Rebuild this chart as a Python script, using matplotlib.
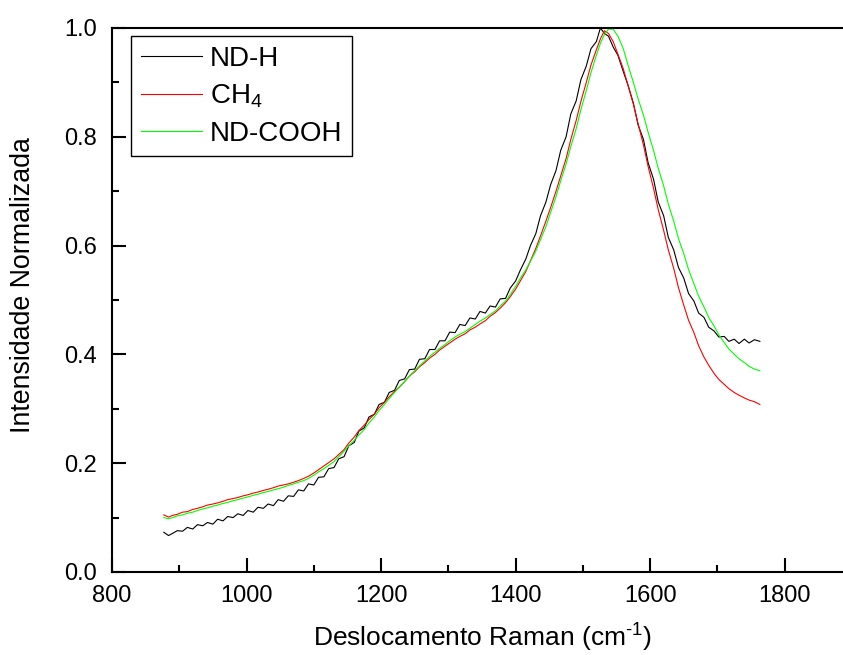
import matplotlib
matplotlib.use("Agg")
import matplotlib.pyplot as plt
from matplotlib.ticker import MultipleLocator, FormatStrFormatter

plt.rcParams['font.family'] = ['Liberation Sans', 'DejaVu Sans']
plt.rcParams['mathtext.fontset'] = 'custom'
plt.rcParams['mathtext.rm'] = 'Liberation Sans'

raman_shift = [877, 884, 890, 897, 905, 912, 920, 927, 935, 942, 950, 957, 965, 972,
               980, 987, 995, 1002, 1010, 1017, 1025, 1032, 1040, 1047, 1055, 1062,
               1070, 1077, 1085, 1092, 1100, 1107, 1115, 1122, 1130, 1137, 1145, 1152,
               1160, 1167, 1175, 1182, 1190, 1197, 1205, 1212, 1220, 1227, 1235, 1242,
               1250, 1257, 1265, 1272, 1280, 1287, 1295, 1302, 1310, 1317, 1325, 1332,
               1340, 1347, 1355, 1362, 1370, 1377, 1385, 1392, 1400, 1407, 1415, 1422,
               1430, 1437, 1445, 1452, 1460, 1467, 1475, 1482, 1490, 1497, 1505, 1512,
               1520, 1526, 1532, 1538, 1545, 1552, 1560, 1567, 1575, 1582, 1590, 1597,
               1605, 1612, 1620, 1627, 1635, 1642, 1650, 1657, 1665, 1672, 1680, 1687,
               1695, 1702, 1710, 1717, 1725, 1732, 1740, 1747, 1755, 1763]

nd_h = [0.073, 0.067, 0.071, 0.076, 0.075, 0.082, 0.079, 0.087, 0.085, 0.091,
        0.088, 0.097, 0.094, 0.102, 0.100, 0.107, 0.104, 0.113, 0.110, 0.119,
        0.117, 0.125, 0.122, 0.133, 0.130, 0.140, 0.139, 0.151, 0.149, 0.162,
        0.160, 0.174, 0.175, 0.190, 0.192, 0.208, 0.212, 0.232, 0.238, 0.259,
        0.265, 0.285, 0.290, 0.308, 0.312, 0.330, 0.334, 0.352, 0.355, 0.372,
        0.373, 0.391, 0.392, 0.409, 0.409, 0.425, 0.425, 0.441, 0.440, 0.455,
        0.453, 0.467, 0.465, 0.479, 0.476, 0.489, 0.487, 0.502, 0.503, 0.522,
        0.535, 0.555, 0.575, 0.600, 0.622, 0.655, 0.680, 0.712, 0.738, 0.775,
        0.800, 0.842, 0.866, 0.905, 0.930, 0.962, 0.975, 1.000, 0.990, 0.985,
        0.965, 0.950, 0.920, 0.895, 0.862, 0.822, 0.795, 0.752, 0.722, 0.680,
        0.655, 0.615, 0.592, 0.560, 0.540, 0.512, 0.498, 0.476, 0.468, 0.450,
        0.443, 0.432, 0.433, 0.424, 0.428, 0.420, 0.428, 0.421, 0.427, 0.424]

ch4 = [0.105, 0.101, 0.104, 0.106, 0.110, 0.111, 0.115, 0.117, 0.120, 0.123, 0.125,
       0.127, 0.130, 0.133, 0.135, 0.137, 0.140, 0.142, 0.145, 0.147, 0.150, 0.152,
       0.155, 0.158, 0.160, 0.162, 0.165, 0.168, 0.172, 0.176, 0.182, 0.188, 0.195,
       0.201, 0.208, 0.216, 0.225, 0.237, 0.248, 0.260, 0.270, 0.280, 0.290, 0.302,
       0.312, 0.322, 0.332, 0.340, 0.350, 0.360, 0.368, 0.377, 0.385, 0.393, 0.400,
       0.408, 0.415, 0.421, 0.428, 0.433, 0.438, 0.445, 0.450, 0.456, 0.462, 0.470,
       0.477, 0.485, 0.495, 0.506, 0.520, 0.535, 0.552, 0.572, 0.595, 0.618, 0.645,
       0.670, 0.700, 0.728, 0.760, 0.795, 0.830, 0.865, 0.900, 0.932, 0.960, 0.980,
       0.995, 0.990, 0.975, 0.952, 0.925, 0.895, 0.860, 0.824, 0.785, 0.745, 0.705,
       0.666, 0.628, 0.592, 0.558, 0.523, 0.490, 0.463, 0.440, 0.416, 0.395, 0.380,
       0.365, 0.354, 0.345, 0.337, 0.330, 0.325, 0.320, 0.316, 0.313, 0.308]

nd_cooh = [0.100, 0.098, 0.100, 0.103, 0.105, 0.108, 0.110, 0.113, 0.116, 0.118, 0.121,
           0.123, 0.126, 0.128, 0.131, 0.133, 0.136, 0.138, 0.141, 0.143, 0.146, 0.148,
           0.151, 0.153, 0.156, 0.159, 0.162, 0.165, 0.168, 0.172, 0.178, 0.184, 0.190,
           0.196, 0.203, 0.212, 0.222, 0.232, 0.242, 0.252, 0.262, 0.274, 0.285, 0.297,
           0.308, 0.319, 0.330, 0.340, 0.350, 0.360, 0.370, 0.379, 0.388, 0.396, 0.404,
           0.411, 0.418, 0.425, 0.432, 0.437, 0.442, 0.448, 0.455, 0.461, 0.467, 0.473,
           0.480, 0.489, 0.498, 0.510, 0.525, 0.540, 0.555, 0.571, 0.590, 0.611, 0.635,
           0.661, 0.690, 0.719, 0.750, 0.782, 0.815, 0.850, 0.885, 0.918, 0.950, 0.972,
           0.988, 0.998, 0.998, 0.985, 0.962, 0.932, 0.900, 0.870, 0.840, 0.808, 0.775,
           0.742, 0.710, 0.676, 0.645, 0.613, 0.585, 0.556, 0.530, 0.507, 0.487, 0.468,
           0.452, 0.436, 0.422, 0.410, 0.400, 0.392, 0.385, 0.378, 0.373, 0.370]

labels = ['ND-H', r'CH$_\mathregular{4}$', 'ND-COOH']
colors = ['#000000', '#ff0000', '#00ff00']

fig = plt.figure(figsize=(8.43, 6.55), dpi=100)
ax = fig.add_axes([112/843, 1 - 572/655, 740/843, 544/655])

for y, lab, c in zip([nd_h, ch4, nd_cooh], labels, colors):
    ax.plot(raman_shift, y, color=c, lw=0.8, label=lab)

ax.set_xlim(800, 1900)
ax.set_ylim(0.0, 1.0)
ax.xaxis.set_major_locator(MultipleLocator(200))
ax.xaxis.set_minor_locator(MultipleLocator(100))
ax.yaxis.set_major_locator(MultipleLocator(0.2))
ax.yaxis.set_minor_locator(MultipleLocator(0.1))
ax.yaxis.set_major_formatter(FormatStrFormatter('%.1f'))
ax.tick_params(which='both', direction='in', top=False, right=False, width=1.5,
               labelsize=17)
ax.tick_params(axis='x', which='major', pad=9)
ax.tick_params(axis='y', which='major', pad=11)
ax.tick_params(which='major', length=10)
ax.tick_params(which='minor', length=5)
for s in ax.spines.values():
    s.set_linewidth(1.5)

ax.set_xlabel(r'Deslocamento Raman (cm$^{\text{-1}}$)', fontsize=19)
ax.set_ylabel('Intensidade Normalizada', fontsize=19.3)
ax.xaxis.set_label_coords(0.5, (572 - 637) / 544, transform=ax.transAxes)
ax.yaxis.set_label_coords((23 - 112) / 740, (572 - 285) / 544, transform=ax.transAxes)
ax.xaxis.label.set_va('center')
ax.yaxis.label.set_va('center')

leg = ax.legend(loc='upper left', bbox_to_anchor=(19/740, 1 - 8/544),
                bbox_transform=ax.transAxes, fontsize=20, frameon=True, fancybox=False,
                handlelength=2.2, borderpad=0.35, labelspacing=0.38, handletextpad=0.3,
                borderaxespad=0, framealpha=1)
leg.get_frame().set_edgecolor('black')
leg.get_frame().set_linewidth(1.0)

fig.savefig('out.png', dpi=100)
